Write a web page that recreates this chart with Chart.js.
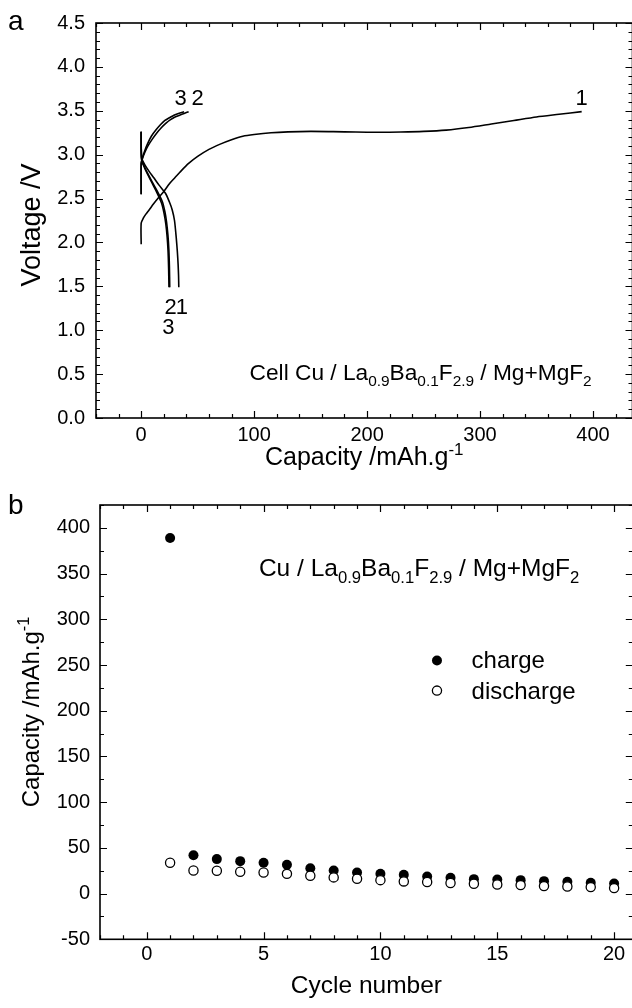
<!DOCTYPE html>
<html>
<head>
<meta charset="utf-8">
<script src="https://cdn.jsdelivr.net/npm/chart.js@4.4.1/dist/chart.umd.min.js"></script>
<style>
html,body{margin:0;padding:0;background:#fff;overflow:hidden;}
body{width:632px;height:1008px;position:relative;}
canvas{position:absolute;left:0;}
#ca{top:0px;}
#cb{top:480px;}
</style>
</head>
<body>
<canvas id="ca" width="640" height="480"></canvas>
<canvas id="cb" width="640" height="528"></canvas>
<script>
// ---------- Panel a : voltage profiles (capacity mAh/g, voltage V) ----------
const ch1Cap = [0, 0, 2, 4, 7, 11, 16, 20, 25, 30, 35, 42, 50, 60, 70, 80, 90, 100, 115, 130, 150, 170, 190, 210, 230, 250, 270, 290, 310, 330, 350, 370, 390];
const ch1V   = [1.98, 2.22, 2.28, 2.32, 2.37, 2.44, 2.52, 2.58, 2.67, 2.74, 2.81, 2.90, 2.98, 3.06, 3.12, 3.17, 3.21, 3.23, 3.25, 3.26, 3.265, 3.262, 3.258, 3.255, 3.258, 3.265, 3.28, 3.31, 3.35, 3.39, 3.43, 3.46, 3.49];
const dc1Cap = [0, 0.4, 3, 7, 11, 16, 21.5, 25, 27.5, 29.5, 31, 32, 32.7, 33.1, 33.3];
const dc1V   = [3.26, 2.96, 2.89, 2.81, 2.74, 2.65, 2.56, 2.46, 2.37, 2.25, 2.06, 1.90, 1.75, 1.62, 1.49];
const ch2Cap = [0, 0, 1, 3, 6, 10, 14, 18, 22, 26, 30, 34, 38, 42];
const ch2V   = [2.55, 2.90, 2.95, 3.02, 3.10, 3.18, 3.25, 3.31, 3.36, 3.40, 3.43, 3.45, 3.47, 3.49];
const dc2Cap = [0, 0.4, 3, 6, 9.7, 14, 18.6, 21, 22.5, 23.7, 24.5, 25, 25.3];
const dc2V   = [3.26, 2.95, 2.86, 2.78, 2.69, 2.59, 2.47, 2.35, 2.23, 2.08, 1.92, 1.72, 1.49];
const ch3Cap = [0, 0, 1, 3, 5.5, 9, 13, 17, 21, 25, 29, 33, 38];
const ch3V   = [2.55, 2.90, 2.96, 3.04, 3.12, 3.21, 3.28, 3.34, 3.39, 3.42, 3.45, 3.47, 3.49];
const dc3Cap = [0, 0.4, 3, 6, 9.5, 13.5, 18, 20.3, 21.8, 23, 23.8, 24.3, 24.6];
const dc3V   = [3.26, 2.94, 2.85, 2.77, 2.68, 2.58, 2.45, 2.33, 2.21, 2.06, 1.90, 1.70, 1.49];
const aXTicks = [0, 100, 200, 300, 400];
const aYTicks = [0, 0.5, 1, 1.5, 2, 2.5, 3, 3.5, 4, 4.5];

// ---------- Panel b : capacity vs cycle ----------
const cycleNo      = [1, 2, 3, 4, 5, 6, 7, 8, 9, 10, 11, 12, 13, 14, 15, 16, 17, 18, 19, 20];
const chargeCap    = [389, 42, 37.7, 35.5, 33.7, 31.5, 27.8, 25.3, 23.1, 21.6, 20.5, 18.7, 17.3, 15.8, 15.5, 14.7, 13.6, 12.9, 11.8, 11.1];
const dischargeCap = [33.7, 25.3, 24.9, 23.8, 23.1, 21.6, 19.5, 17.7, 16.2, 14.7, 13.3, 12.6, 11.5, 10.7, 10.0, 9.3, 8.2, 7.8, 7.1, 6.0];
const bXTicks = [0, 5, 10, 15, 20];
const bYTicks = [-50, 0, 50, 100, 150, 200, 250, 300, 350, 400];

const FONT = "'Liberation Sans', Arial, Helvetica, sans-serif";
Chart.defaults.font.family = FONT;
Chart.defaults.color = '#000';

function pts(xs, ys) { return xs.map((x, i) => ({ x: x, y: ys[i] })); }
function curve(xs, ys) {
  return { data: pts(xs, ys), showLine: true, borderColor: '#000', borderWidth: 1.6,
           pointRadius: 0, pointHoverRadius: 0, tension: 0.25, fill: false };
}

// rich text with sub/superscripts: parts = [[text, mode]], mode 0 normal, 1 sub, -1 sup
function drawRich(ctx, x, y, parts, size, align) {
  const small = size * 0.68;
  let w = 0;
  parts.forEach(p => { ctx.font = (p[1] ? small : size) + 'px ' + FONT; w += ctx.measureText(p[0]).width; });
  let cx = align === 'center' ? x - w / 2 : (align === 'right' ? x - w : x);
  ctx.textAlign = 'left';
  ctx.textBaseline = 'alphabetic';
  ctx.fillStyle = '#000';
  parts.forEach(p => {
    const fs = p[1] ? small : size;
    ctx.font = fs + 'px ' + FONT;
    const dy = p[1] === 1 ? size * 0.27 : (p[1] === -1 ? -size * 0.40 : 0);
    ctx.fillText(p[0], cx, y + dy);
    cx += ctx.measureText(p[0]).width;
  });
}

// frame with inward major/minor ticks on all four sides
const frame = {
  id: 'frame',
  afterDatasetsDraw(chart, args, o) {
    const ctx = chart.ctx, a = chart.chartArea;
    const xs = chart.scales.x, ys = chart.scales.y;
    ctx.save();
    ctx.strokeStyle = '#000';
    ctx.lineWidth = 1.2;
    ctx.beginPath();
    const isMajor = (v, m) => Math.abs(v / m - Math.round(v / m)) < 1e-6;
    for (let k = Math.ceil(xs.min / o.xMinor - 1e-9); k * o.xMinor <= xs.max + 1e-9; k++) {
      const v = k * o.xMinor;
      const len = isMajor(v, o.xMajor) ? 7 : 4;
      const px = Math.round(xs.getPixelForValue(v)) + 0.5;
      ctx.moveTo(px, a.bottom); ctx.lineTo(px, a.bottom - len);
      ctx.moveTo(px, a.top); ctx.lineTo(px, a.top + len);
    }
    for (let k = Math.ceil(ys.min / o.yMinor - 1e-9); k * o.yMinor <= ys.max + 1e-9; k++) {
      const v = k * o.yMinor;
      const len = isMajor(v, o.yMajor) ? 7 : 4;
      const py = Math.round(ys.getPixelForValue(v)) + 0.5;
      ctx.moveTo(a.left, py); ctx.lineTo(a.left + len, py);
      ctx.moveTo(a.right, py); ctx.lineTo(a.right - len, py);
    }
    ctx.stroke();
    ctx.lineWidth = 1.6;
    ctx.strokeRect(a.left, a.top, a.right - a.left, a.bottom - a.top);
    ctx.restore();
  }
};

// ---------------- Chart a ----------------
const textA = {
  id: 'textA',
  afterDraw(chart) {
    const ctx = chart.ctx, xs = chart.scales.x, ys = chart.scales.y, a = chart.chartArea;
    ctx.save();
    // curve numbers
    const lab = (t, cx, cy) => drawRich(ctx, xs.getPixelForValue(cx), ys.getPixelForValue(cy), [[t, 0]], 22, 'center');
    lab('1', 390, 3.57);
    lab('3', 35, 3.57);
    lab('2', 50, 3.57);
    lab('2', 26, 1.19);
    lab('1', 36, 1.19);
    lab('3', 24, 0.96);
    // cell annotation
    drawRich(ctx, xs.getPixelForValue(96), ys.getPixelForValue(0.43),
      [['Cell Cu / La', 0], ['0.9', 1], ['Ba', 0], ['0.1', 1], ['F', 0], ['2.9', 1], [' / Mg+MgF', 0], ['2', 1]], 22.7, 'left');
    // axis titles
    drawRich(ctx, (a.left + a.right) / 2, 465, [['Capacity /mAh.g', 0], ['-1', -1]], 25, 'center');
    ctx.save();
    ctx.translate(40, 225);
    ctx.rotate(-Math.PI / 2);
    drawRich(ctx, 0, 0, [['Voltage /V', 0]], 27, 'center');
    ctx.restore();
    // panel letter
    drawRich(ctx, 8, 30, [['a', 0]], 28, 'left');
    ctx.restore();
  }
};

new Chart(document.getElementById('ca'), {
  type: 'scatter',
  data: { datasets: [
    curve(ch1Cap, ch1V), curve(dc1Cap, dc1V),
    curve(ch2Cap, ch2V), curve(dc2Cap, dc2V),
    curve(ch3Cap, ch3V), curve(dc3Cap, dc3V)
  ] },
  options: {
    responsive: false, animation: false,
    layout: { padding: { top: 21, right: 7.5, left: 0, bottom: 0 } },
    plugins: { legend: { display: false }, tooltip: { enabled: false },
               frame: { xMajor: 100, xMinor: 20, yMajor: 0.5, yMinor: 0.1 } },
    scales: {
      x: { type: 'linear', min: -40, max: 435,
           grid: { display: false, drawTicks: false }, border: { display: false },
           afterBuildTicks: s => { s.ticks = aXTicks.map(v => ({ value: v })); },
           afterFit: s => { s.height = 62; },
           ticks: { font: { size: 20 }, padding: 5, maxRotation: 0, autoSkip: false, callback: v => String(v) } },
      y: { type: 'linear', min: 0, max: 4.5,
           grid: { display: false, drawTicks: false }, border: { display: false },
           afterBuildTicks: s => { s.ticks = aYTicks.map(v => ({ value: v })); },
           afterFit: s => { s.width = 96; },
           ticks: { font: { size: 20 }, padding: 11, autoSkip: false, callback: v => Number(v).toFixed(1) } }
    }
  },
  plugins: [frame, textA]
});

// ---------------- Chart b ----------------
const textB = {
  id: 'textB',
  afterDraw(chart) {
    const ctx = chart.ctx, xs = chart.scales.x, ys = chart.scales.y, a = chart.chartArea;
    ctx.save();
    drawRich(ctx, xs.getPixelForValue(4.8), ys.getPixelForValue(347),
      [['Cu / La', 0], ['0.9', 1], ['Ba', 0], ['0.1', 1], ['F', 0], ['2.9', 1], [' / Mg+MgF', 0], ['2', 1]], 24.5, 'left');
    // legend
    const ds = chart.data.datasets;
    const items = [[ds[0], 'charge', 255], [ds[1], 'discharge', 222]];
    items.forEach(it => {
      const px = xs.getPixelForValue(12.42), py = ys.getPixelForValue(it[2]);
      ctx.beginPath();
      ctx.arc(px, py, it[0].pointRadius, 0, Math.PI * 2);
      ctx.fillStyle = it[0].pointBackgroundColor;
      ctx.fill();
      if (it[0].pointBorderWidth > 0) {
        ctx.lineWidth = it[0].pointBorderWidth;
        ctx.strokeStyle = it[0].pointBorderColor;
        ctx.stroke();
      }
      drawRich(ctx, xs.getPixelForValue(13.9), py + 8, [[it[1], 0]], 24, 'left');
    });
    drawRich(ctx, (a.left + a.right) / 2, 513, [['Cycle number', 0]], 24.5, 'center');
    ctx.save();
    ctx.translate(39, 232);
    ctx.rotate(-Math.PI / 2);
    drawRich(ctx, 0, 0, [['Capacity /mAh.g', 0], ['-1', -1]], 24, 'center');
    ctx.restore();
    drawRich(ctx, 8, 34, [['b', 0]], 28, 'left');
    ctx.restore();
  }
};

new Chart(document.getElementById('cb'), {
  type: 'scatter',
  data: { datasets: [
    { label: 'charge', data: pts(cycleNo, chargeCap), showLine: false, order: 2,
      pointRadius: 5, pointHoverRadius: 5, pointBackgroundColor: '#000', pointBorderColor: '#000', pointBorderWidth: 0 },
    { label: 'discharge', data: pts(cycleNo, dischargeCap), showLine: false, order: 1,
      pointRadius: 4.6, pointHoverRadius: 4.6, pointBackgroundColor: '#fff', pointBorderColor: '#000', pointBorderWidth: 1.3 }
  ] },
  options: {
    responsive: false, animation: false,
    layout: { padding: { top: 25, right: 7.2, left: 0, bottom: 0 } },
    plugins: { legend: { display: false }, tooltip: { enabled: false },
               frame: { xMajor: 5, xMinor: 1, yMajor: 50, yMinor: 25 } },
    scales: {
      x: { type: 'linear', min: -2, max: 20.8,
           grid: { display: false, drawTicks: false }, border: { display: false },
           afterBuildTicks: s => { s.ticks = bXTicks.map(v => ({ value: v })); },
           afterFit: s => { s.height = 68.7; },
           ticks: { font: { size: 20 }, padding: 3, maxRotation: 0, autoSkip: false, callback: v => String(v) } },
      y: { type: 'linear', min: -50, max: 425,
           grid: { display: false, drawTicks: false }, border: { display: false },
           afterBuildTicks: s => { s.ticks = bYTicks.map(v => ({ value: v })); },
           afterFit: s => { s.width = 100; },
           ticks: { font: { size: 20 }, padding: 10, autoSkip: false, callback: v => String(v) } }
    }
  },
  plugins: [frame, textB]
});
</script>
</body>
</html>
